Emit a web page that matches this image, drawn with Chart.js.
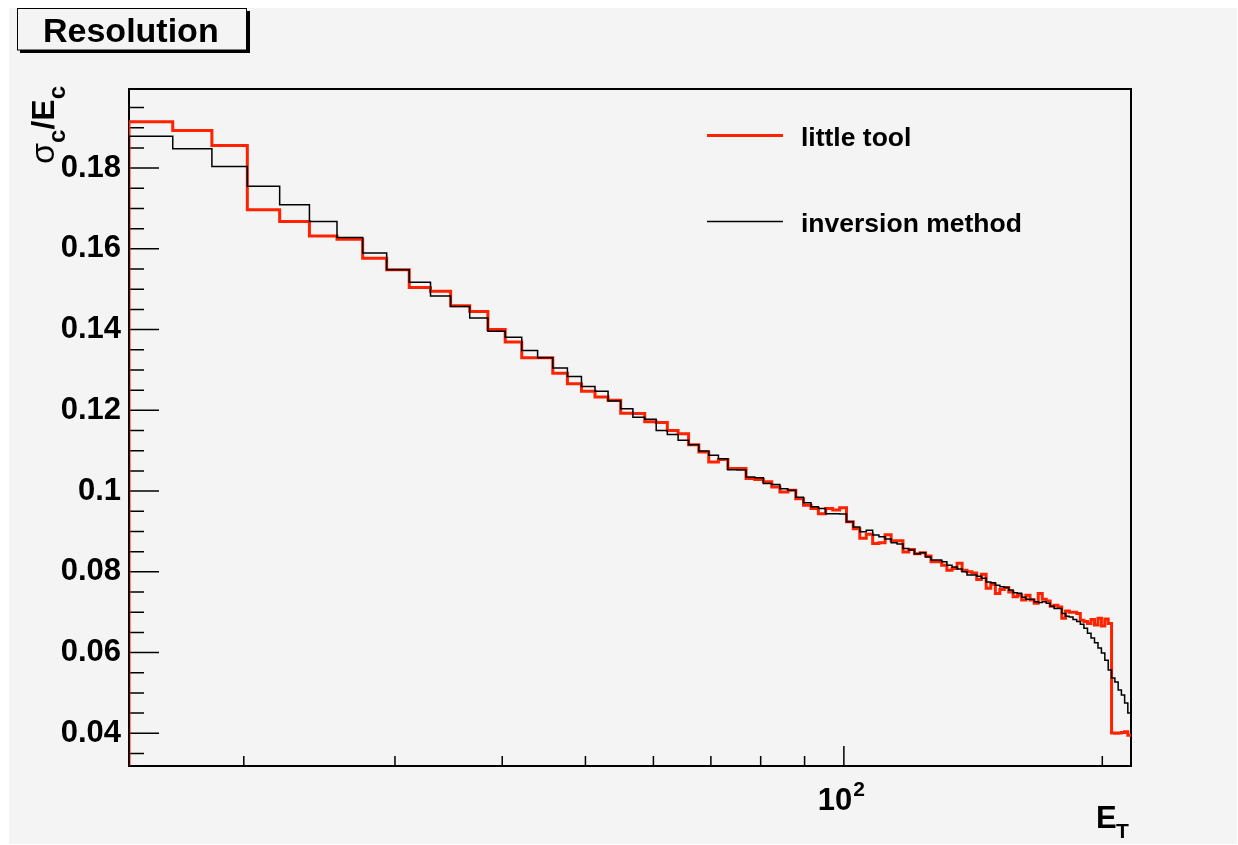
<!DOCTYPE html>
<html lang="en">
<head>
<meta charset="UTF-8">
<title>Resolution</title>
<script src="https://cdn.jsdelivr.net/npm/chart.js"></script>
<style>
  html, body { margin: 0; padding: 0; background: #fff; }
</style>
</head>
<body>
<canvas id="myChart" width="1238" height="845"></canvas>
<script>
// histogram binning (E_T), log x axis
const xMin = 14.7, xMax = 216, binWidth = 1.83;
const yMin = 0.0319, yMax = 0.1996;

// sigma_c / E_c per bin
const littleTool = [
  0.1915, 0.1893, 0.1856, 0.1697, 0.1668, 0.1632, 0.1624, 0.1577, 0.1548, 0.1504,
  0.1495, 0.1459, 0.1445, 0.1400, 0.1369, 0.1330, 0.1330, 0.1292, 0.1266, 0.1247,
  0.1233, 0.1225, 0.1193, 0.1192, 0.1172, 0.1170, 0.1150, 0.1142, 0.1115, 0.1097,
  0.1072, 0.1078, 0.1056, 0.1056, 0.1031, 0.1029, 0.1023, 0.1010, 0.0998, 0.1002,
  0.0981, 0.0965, 0.0957, 0.0944, 0.0957, 0.0953, 0.0959, 0.0924, 0.0907, 0.0883,
  0.0893, 0.0870, 0.0872, 0.0892, 0.0877, 0.0877, 0.0849, 0.0855, 0.0845, 0.0847,
  0.0839, 0.0825, 0.0825, 0.0816, 0.0804, 0.0808, 0.0821, 0.0804, 0.0800, 0.0797,
  0.0781, 0.0794, 0.0759, 0.0769, 0.0746, 0.0756, 0.0761, 0.0750, 0.0738, 0.0742,
  0.0730, 0.0742, 0.0730, 0.0722, 0.0746, 0.0732, 0.0728, 0.0715, 0.0717, 0.0713,
  0.0685, 0.0703, 0.0700, 0.0700, 0.0697, 0.0680, 0.0677, 0.0672, 0.0682, 0.0668,
  0.0685, 0.0666, 0.0683, 0.0672, 0.0401, 0.0400, 0.0401, 0.0402, 0.0404, 0.0395
];
const inversionMethod = [
  0.1879, 0.1848, 0.1804, 0.1755, 0.1709, 0.1668, 0.1628, 0.1590, 0.1548, 0.1517,
  0.1483, 0.1457, 0.1429, 0.1396, 0.1381, 0.1348, 0.1330, 0.1305, 0.1284, 0.1259,
  0.1247, 0.1223, 0.1204, 0.1183, 0.1178, 0.1150, 0.1140, 0.1126, 0.1115, 0.1099,
  0.1089, 0.1080, 0.1053, 0.1052, 0.1035, 0.1033, 0.1019, 0.1016, 0.1006, 0.1002,
  0.0985, 0.0971, 0.0961, 0.0957, 0.0944, 0.0944, 0.0943, 0.0924, 0.0911, 0.0899,
  0.0903, 0.0891, 0.0887, 0.0881, 0.0872, 0.0869, 0.0858, 0.0854, 0.0845, 0.0847,
  0.0837, 0.0829, 0.0829, 0.0825, 0.0816, 0.0812, 0.0807, 0.0800, 0.0792, 0.0792,
  0.0789, 0.0784, 0.0775, 0.0773, 0.0767, 0.0763, 0.0761, 0.0755, 0.0748, 0.0747,
  0.0737, 0.0732, 0.0732, 0.0726, 0.0724, 0.0726, 0.0722, 0.0715, 0.0709, 0.0709,
  0.0697, 0.0690, 0.0688, 0.0682, 0.0677, 0.0670, 0.0660, 0.0648, 0.0636, 0.0624,
  0.0611, 0.0599, 0.0581, 0.0557, 0.0537, 0.0527, 0.0507, 0.0495, 0.0475, 0.0450
];

const xTickValues = [20, 30, 40, 50, 60, 70, 80, 90, 100, 200];
const xMajorTicks = [100];
const xLabelValue = 100;          // drawn as 10^2
const yTickValues = [0.04, 0.06, 0.08, 0.10, 0.12, 0.14, 0.16, 0.18];
const yTickLabels = ['0.04', '0.06', '0.08', '0.1', '0.12', '0.14', '0.16', '0.18'];
const yMinorTicks = [0.035, 0.045, 0.05, 0.055, 0.065, 0.07, 0.075, 0.085, 0.09, 0.095,
  0.105, 0.11, 0.115, 0.125, 0.13, 0.135, 0.145, 0.15, 0.155, 0.165, 0.17, 0.175,
  0.185, 0.19, 0.195];

const FONT = '"Liberation Sans", Arial, Helvetica, sans-serif';
const RED = 'rgb(255,34,0)';

// left edge of every bin, plus closing point at right edge
function histPoints(values) {
  const pts = [{ x: xMin, y: yMin }];
  values.forEach((v, i) => pts.push({ x: xMin + i * binWidth, y: v }));
  pts.push({ x: xMin + values.length * binWidth, y: values[values.length - 1] });
  return pts;
}

const padPlugin = {
  id: 'pad',
  beforeDraw(chart) {
    const ctx = chart.ctx;
    ctx.save();
    ctx.fillStyle = '#fff';
    ctx.fillRect(0, 0, chart.width, chart.height);
    ctx.fillStyle = '#f4f4f4';
    ctx.fillRect(9, 8, 1228, 836);
    ctx.restore();
  },
  beforeDatasetsDraw(chart) {
    const ctx = chart.ctx, a = chart.chartArea;
    const xs = chart.scales.x, ys = chart.scales.y;
    ctx.save();
    ctx.strokeStyle = '#000';
    ctx.lineWidth = 2;
    ctx.beginPath();
    ctx.moveTo(a.left, a.top); ctx.lineTo(a.right, a.top); ctx.lineTo(a.right, a.bottom);
    ctx.stroke();
    ctx.lineWidth = 1.5;
    ctx.beginPath();
    yTickValues.forEach(v => { const y = ys.getPixelForValue(v); ctx.moveTo(a.left, y); ctx.lineTo(a.left + 30, y); });
    yMinorTicks.forEach(v => { const y = ys.getPixelForValue(v); ctx.moveTo(a.left, y); ctx.lineTo(a.left + 15, y); });
    xTickValues.forEach(v => {
      const x = xs.getPixelForValue(v);
      const len = xMajorTicks.includes(v) ? 20 : 10;
      ctx.moveTo(x, a.bottom); ctx.lineTo(x, a.bottom - len);
    });
    ctx.stroke();
    ctx.restore();
  },
  afterDraw(chart) {
    const ctx = chart.ctx;
    const xs = chart.scales.x;
    ctx.save();
    // title box
    ctx.fillStyle = '#000';
    ctx.fillRect(20, 50, 230, 3);
    ctx.fillRect(246, 11, 4, 42);
    ctx.fillStyle = '#f4f4f4';
    ctx.fillRect(17.5, 8.5, 229, 41.5);
    ctx.strokeStyle = '#000';
    ctx.lineWidth = 1;
    ctx.strokeRect(17.5, 8.5, 229, 41.5);
    ctx.fillStyle = '#000';
    ctx.font = 'bold 34px ' + FONT;
    ctx.textBaseline = 'alphabetic';
    ctx.textAlign = 'left';
    ctx.fillText('Resolution', 43, 42);

    // x tick label 10^2
    ctx.font = 'bold 31px ' + FONT;
    const w10 = ctx.measureText('10').width;
    ctx.font = 'bold 21px ' + FONT;
    const w2 = ctx.measureText('2').width;
    const lx = xs.getPixelForValue(xLabelValue) - 3 - (w10 + w2) / 2;
    ctx.font = 'bold 31px ' + FONT;
    ctx.fillText('10', lx, 810);
    ctx.font = 'bold 21px ' + FONT;
    ctx.fillText('2', lx + w10 + 1, 796);

    // legend
    ctx.strokeStyle = RED; ctx.lineWidth = 3;
    ctx.beginPath(); ctx.moveTo(707, 135.5); ctx.lineTo(783, 135.5); ctx.stroke();
    ctx.strokeStyle = '#000'; ctx.lineWidth = 1.5;
    ctx.beginPath(); ctx.moveTo(707, 221.5); ctx.lineTo(783, 221.5); ctx.stroke();
    ctx.font = 'bold 26.5px ' + FONT;
    ctx.fillText('little tool', 801, 145.5);
    ctx.fillText('inversion method', 801, 231.5);

    // x title E_T
    ctx.font = 'bold 31px ' + FONT;
    ctx.fillText('E', 1096, 828);
    ctx.font = 'bold 21px ' + FONT;
    ctx.fillText('T', 1116, 838);

    // y title sigma_c / E_c, rotated
    ctx.translate(54, 0);
    ctx.rotate(-Math.PI / 2);
    const parts = [
      { t: 'σ', f: '34px ' + FONT, dy: 0 },
      { t: 'c', f: 'bold 24px ' + FONT, dy: 11 },
      { t: '/E', f: 'bold 32px ' + FONT, dy: 0 },
      { t: 'c', f: 'bold 24px ' + FONT, dy: 11 }
    ];
    let total = 0;
    parts.forEach(p => { ctx.font = p.f; p.w = ctx.measureText(p.t).width; total += p.w; });
    let px = -86 - total;
    parts.forEach(p => { ctx.font = p.f; ctx.fillText(p.t, px, p.dy); px += p.w; });
    ctx.restore();
  }
};

const ctx = document.getElementById('myChart').getContext('2d');
new Chart(ctx, {
  type: 'line',
  data: {
    datasets: [{
      label: 'little tool',
      data: histPoints(littleTool),
      borderColor: RED,
      borderWidth: 3,
      stepped: true,
      pointRadius: 0,
      fill: false,
      order: 2
    }, {
      label: 'inversion method',
      data: histPoints(inversionMethod),
      borderColor: '#000',
      borderWidth: 1.5,
      stepped: true,
      pointRadius: 0,
      fill: false,
      order: 1
    }]
  },
  options: {
    responsive: false,
    animation: false,
    devicePixelRatio: 1,
    layout: { padding: { left: 0, top: 89, right: 107, bottom: 0 } },
    plugins: { legend: { display: false }, tooltip: { enabled: false } },
    scales: {
      x: {
        type: 'logarithmic',
        min: xMin,
        max: xMax,
        afterFit: s => { s.height = 79; },
        afterBuildTicks: s => { s.ticks = xTickValues.map(v => ({ value: v })); },
        grid: { display: false, drawTicks: false },
        border: { display: true, color: '#000', width: 2 },
        ticks: { display: false }
      },
      y: {
        min: yMin,
        max: yMax,
        afterFit: s => { s.width = 129; },
        afterBuildTicks: s => { s.ticks = yTickValues.map(v => ({ value: v })); },
        grid: { display: false, drawTicks: false },
        border: { display: true, color: '#000', width: 2 },
        ticks: {
          autoSkip: false, padding: 8, color: '#000',
          font: { family: FONT, size: 31, weight: 'bold' },
          callback: (v, i) => yTickLabels[i]
        }
      }
    }
  },
  plugins: [padPlugin]
});
</script>
</body>
</html>
